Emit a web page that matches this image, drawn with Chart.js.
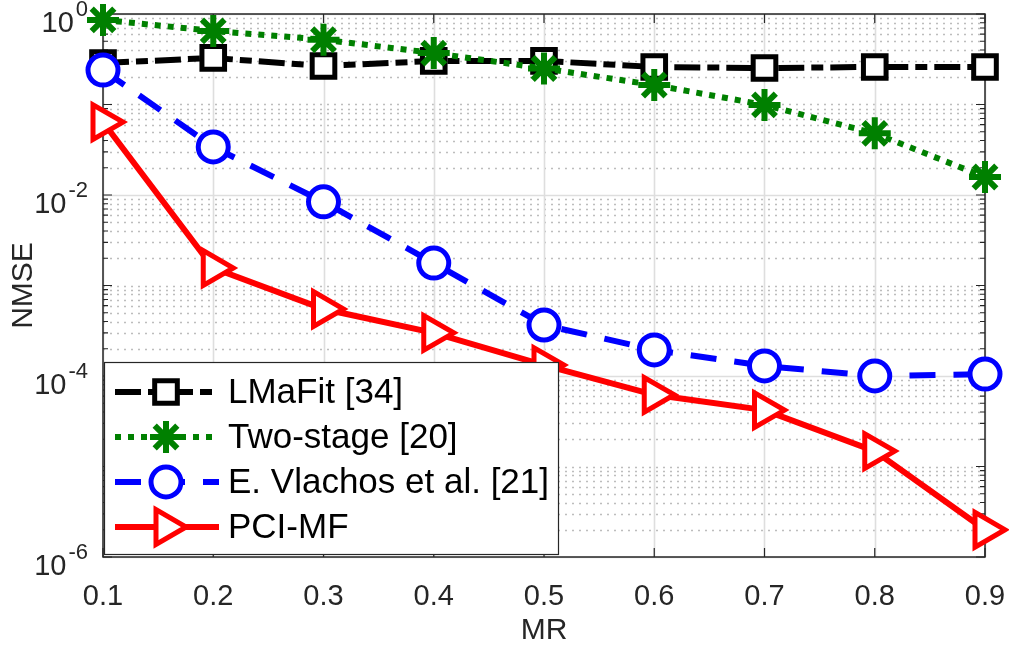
<!DOCTYPE html>
<html>
<head>
<meta charset="utf-8">
<script src="https://cdn.jsdelivr.net/npm/chart.js@4.4.1/dist/chart.umd.min.js"></script>
<style>
  html, body { margin: 0; padding: 0; background: #fff; }
  #wrap { width: 1009px; height: 650px; }
</style>
</head>
<body>
<div id="wrap"><canvas id="chart"></canvas></div>
<script>
// valores
const mrValues = [0.1, 0.2, 0.3, 0.4, 0.5, 0.6, 0.7, 0.8, 0.9];
const lmafit = [0.287, 0.327, 0.266, 0.303, 0.303, 0.26, 0.253, 0.26, 0.26];
const twoStage = [0.86, 0.65, 0.52, 0.37, 0.25, 0.164, 0.099, 0.048, 0.0158];
const vlachos = [0.24, 0.034, 0.0084, 0.00177, 3.66e-4, 1.94e-4, 1.29e-4, 1.0e-4, 1.05e-4];
const pciMf = [0.064, 0.00156, 5.5e-4, 3.0e-4, 1.32e-4, 6.2e-5, 4.2e-5, 1.48e-5, 2.0e-6];
const seriesNames = ['LMaFit [34]', 'Two-stage [20]', 'E. Vlachos et al. [21]', 'PCI-MF'];
const yLabelExps = [0, -2, -4, -6];

const FONT = '"Liberation Sans", Arial, Helvetica, sans-serif';
const AXIS_COLOR = '#262626';
Chart.defaults.font.family = FONT;

function toPoints(vals) {
    return mrValues.map((x, i) => ({ x: x, y: vals[i] }));
}

const styles = [
    { color: '#000000', dash: [26, 7, 12, 7], pointStyle: 'rect', radius: 16, rotation: 0, bw: 5 },
    { color: '#008000', dash: [6, 7], pointStyle: 'star', radius: 16, rotation: 0, bw: 6 },
    { color: '#0000ff', dash: [26, 18], pointStyle: 'circle', radius: 15, rotation: 0, bw: 5 },
    { color: '#ff0000', dash: [], pointStyle: 'triangle', radius: 20, rotation: 90, bw: 5 }
];
const seriesData = [lmafit, twoStage, vlachos, pciMf];
const drawOrder = [4, 3, 2, 1];
const LINE_W = 6;

// rejilla, caja y marcas estilo MATLAB
const axesPlugin = {
    id: 'axesPlugin',
    beforeDatasetsDraw(chart) {
        const ctx = chart.ctx;
        const a = chart.chartArea;
        const xs = chart.scales.x;
        const ys = chart.scales.y;
        ctx.save();
        // rejilla menor punteada
        ctx.strokeStyle = '#bdbdbd';
        ctx.lineWidth = 1.5;
        ctx.setLineDash([2, 5]);
        for (let e = -6; e < 0; e++) {
            for (let m = 1; m <= 9; m++) {
                if (m === 1 && e % 2 === 0) continue;
                const y = Math.round(ys.getPixelForValue(m * Math.pow(10, e))) + 0.5;
                ctx.beginPath(); ctx.moveTo(a.left, y); ctx.lineTo(a.right, y); ctx.stroke();
            }
        }
        // rejilla mayor
        ctx.setLineDash([]);
        ctx.strokeStyle = '#dedede';
        ctx.lineWidth = 1.6;
        yLabelExps.forEach(e => {
            const y = Math.round(ys.getPixelForValue(Math.pow(10, e))) + 0.5;
            ctx.beginPath(); ctx.moveTo(a.left, y); ctx.lineTo(a.right, y); ctx.stroke();
        });
        mrValues.forEach(v => {
            const x = Math.round(xs.getPixelForValue(v)) + 0.5;
            ctx.beginPath(); ctx.moveTo(x, a.top); ctx.lineTo(x, a.bottom); ctx.stroke();
        });
        // caja
        ctx.strokeStyle = AXIS_COLOR;
        ctx.lineWidth = 1.5;
        ctx.strokeRect(a.left, a.top, a.right - a.left, a.bottom - a.top);
        // marcas
        ctx.lineWidth = 1.2;
        mrValues.forEach(v => {
            const x = xs.getPixelForValue(v);
            ctx.beginPath();
            ctx.moveTo(x, a.bottom); ctx.lineTo(x, a.bottom - 9);
            ctx.moveTo(x, a.top); ctx.lineTo(x, a.top + 9);
            ctx.stroke();
        });
        for (let e = -6; e <= 0; e++) {
            for (let m = 1; m <= 9; m++) {
                if (e === 0 && m > 1) break;
                const y = ys.getPixelForValue(m * Math.pow(10, e));
                const len = m === 1 ? 9 : 5;
                ctx.beginPath();
                ctx.moveTo(a.left, y); ctx.lineTo(a.left + len, y);
                ctx.moveTo(a.right, y); ctx.lineTo(a.right - len, y);
                ctx.stroke();
            }
        }
        // etiquetas del eje y con exponente
        ctx.fillStyle = AXIS_COLOR;
        ctx.textBaseline = 'alphabetic';
        yLabelExps.forEach(e => {
            const y = ys.getPixelForValue(Math.pow(10, e));
            const expText = String(e);
            ctx.font = '22px ' + FONT;
            const ew = ctx.measureText(expText).width;
            const right = a.left - 15;
            ctx.textAlign = 'left';
            ctx.fillText(expText, right - ew, y + 2);
            ctx.font = '29px ' + FONT;
            ctx.textAlign = 'right';
            ctx.fillText('10', right - ew - 2, y + 18);
        });
        ctx.restore();
    }
};

// leyenda dentro del área de trazado
const legendPlugin = {
    id: 'legendPlugin',
    afterDatasetsDraw(chart) {
        const ctx = chart.ctx;
        const a = chart.chartArea;
        const box = { x: a.left + 1, y: 362, w: 454, h: 192 };
        ctx.save();
        ctx.fillStyle = '#ffffff';
        ctx.fillRect(box.x, box.y, box.w, box.h);
        ctx.strokeStyle = AXIS_COLOR;
        ctx.lineWidth = 1.2;
        ctx.strokeRect(box.x + 0.5, box.y + 0.5, box.w, box.h);
        const rows = [392, 437, 482, 527];
        seriesNames.forEach((name, i) => {
            const s = styles[i];
            const y = rows[i];
            ctx.strokeStyle = s.color;
            ctx.lineWidth = LINE_W;
            ctx.setLineDash(s.dash);
            ctx.beginPath(); ctx.moveTo(115, y); ctx.lineTo(219, y); ctx.stroke();
            ctx.setLineDash([]);
            ctx.fillStyle = '#ffffff';
            ctx.lineWidth = s.bw;
            Chart.helpers.drawPoint(ctx, {
                pointStyle: s.pointStyle, radius: s.radius, rotation: s.rotation, borderWidth: s.bw
            }, 166, y);
            ctx.fillStyle = '#000000';
            ctx.font = '35px ' + FONT;
            ctx.textAlign = 'left';
            ctx.textBaseline = 'middle';
            ctx.fillText(name, 228, y + 1);
        });
        ctx.restore();
    }
};

const datasets = seriesNames.map((name, i) => ({
    label: name,
    data: toPoints(seriesData[i]),
    borderColor: styles[i].color,
    backgroundColor: '#ffffff',
    borderWidth: LINE_W,
    borderDash: styles[i].dash,
    pointStyle: styles[i].pointStyle,
    pointRadius: styles[i].radius,
    pointRotation: styles[i].rotation,
    pointBorderWidth: styles[i].bw,
    pointBorderColor: styles[i].color,
    pointBackgroundColor: '#ffffff',
    tension: 0,
    clip: false,
    order: drawOrder[i]
}));

new Chart(document.getElementById('chart'), {
    type: 'line',
    data: { datasets: datasets },
    options: {
        responsive: true,
        maintainAspectRatio: false,
        animation: false,
        events: [],
        layout: { autoPadding: false, padding: { top: 14, right: 24, left: 0, bottom: 0 } },
        plugins: { legend: { display: false }, tooltip: { enabled: false } },
        scales: {
            x: {
                type: 'linear',
                min: 0.1,
                max: 0.9,
                grid: { display: false },
                border: { display: false },
                ticks: {
                    stepSize: 0.1,
                    color: AXIS_COLOR,
                    font: { size: 29 },
                    padding: 15,
                    callback: v => Number(v).toFixed(1)
                },
                title: {
                    display: true,
                    text: 'MR',
                    color: AXIS_COLOR,
                    font: { size: 30 },
                    padding: { top: 0, bottom: 1 }
                },
                afterFit: s => {
                    s.height = 93;
                    s.paddingLeft = 0;
                    s.paddingRight = 0;
                }
            },
            y: {
                type: 'logarithmic',
                min: 1e-6,
                max: 1,
                grid: { display: false },
                border: { display: false },
                ticks: { display: false },
                title: {
                    display: true,
                    text: 'NMSE',
                    color: AXIS_COLOR,
                    font: { size: 30 },
                    padding: { top: 6, bottom: 0 }
                },
                afterFit: s => {
                    s.width = 103;
                    s.paddingTop = 0;
                    s.paddingBottom = 0;
                }
            }
        }
    },
    plugins: [axesPlugin, legendPlugin]
});
</script>
</body>
</html>
